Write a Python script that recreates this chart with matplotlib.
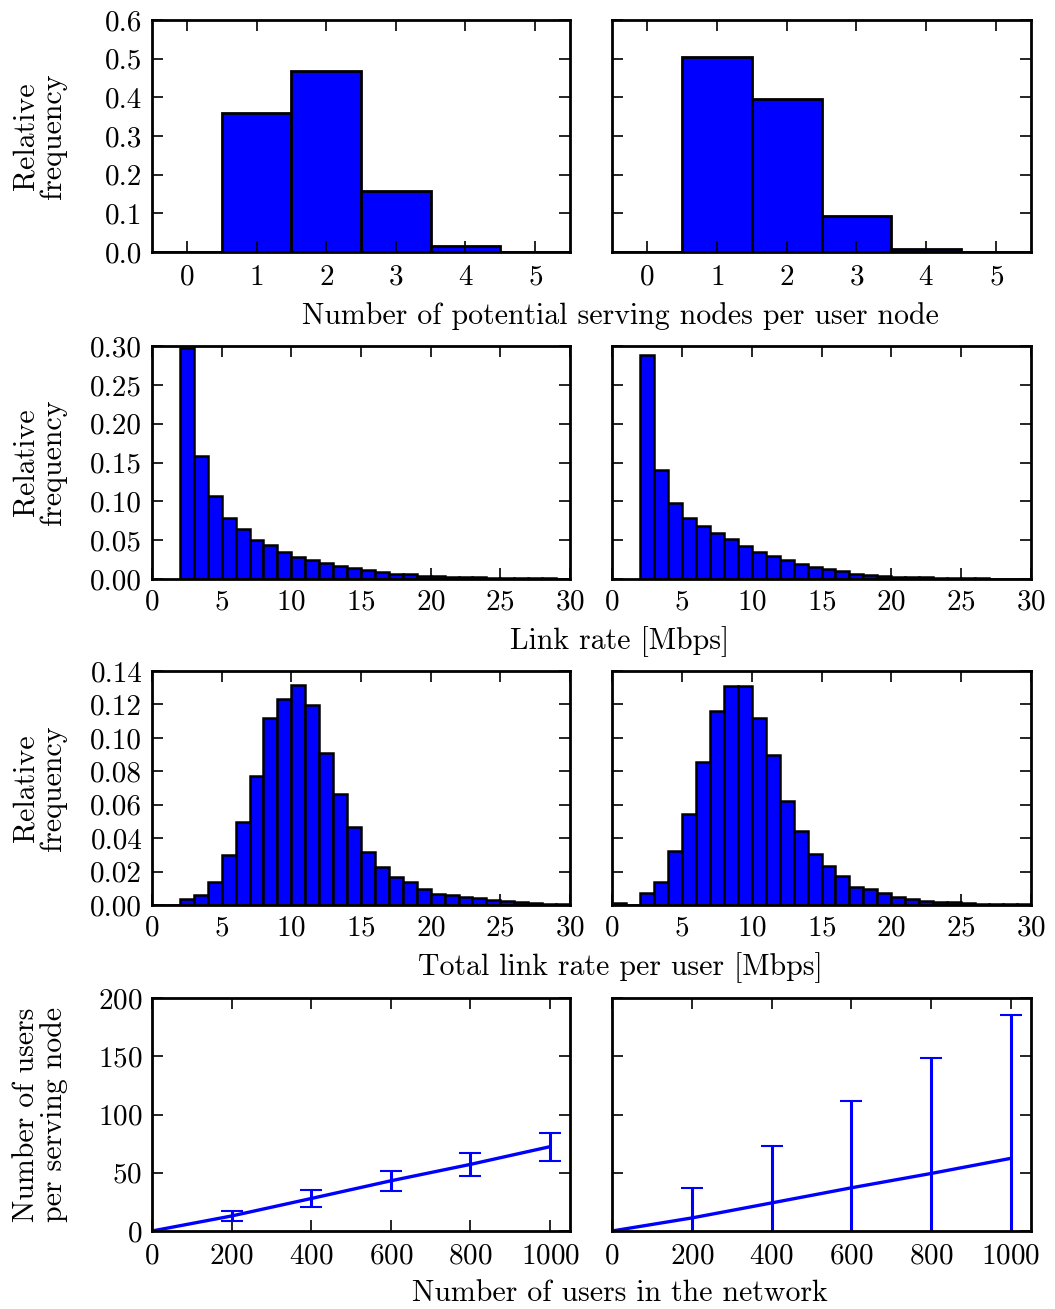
import matplotlib
matplotlib.use("Agg")
import matplotlib.pyplot as plt
import numpy as np

plt.rcParams['font.family'] = 'serif'
plt.rcParams['font.serif'] = ['cmr10', 'DejaVu Serif']
plt.rcParams['mathtext.fontset'] = 'cm'
plt.rcParams['axes.unicode_minus'] = False
plt.rcParams['axes.formatter.use_mathtext'] = True

# ---------------- data ----------------
nodes_bins = [0, 1, 2, 3, 4, 5]
nodes_left = [0.0, 0.359, 0.467, 0.157, 0.0155, 0.0]
nodes_right = [0.0, 0.504, 0.395, 0.092, 0.007, 0.0]

link_bins = list(range(2, 30))
link_left = [0.298, 0.159, 0.107, 0.079, 0.064, 0.050, 0.044, 0.035, 0.028, 0.0246,
             0.021, 0.0168, 0.0138, 0.0116, 0.009, 0.0069, 0.006, 0.0043, 0.0034, 0.003,
             0.0025, 0.002, 0.0018, 0.0015, 0.0012, 0.001, 0.0008, 0.0006]
link_right = [0.288, 0.140, 0.098, 0.078, 0.068, 0.0595, 0.051, 0.043, 0.035, 0.029,
              0.025, 0.0198, 0.0151, 0.0125, 0.0103, 0.0069, 0.0056, 0.0043, 0.003, 0.0025,
              0.002, 0.0016, 0.0013, 0.001, 0.0008, 0.0006, 0.0005, 0.0004]

total_bins = list(range(0, 30))
total_left = [0.0, 0.0, 0.0038, 0.0058, 0.0137, 0.0299, 0.0494, 0.0771, 0.1116, 0.1235,
              0.1315, 0.1197, 0.0912, 0.0665, 0.0468, 0.0315, 0.0227, 0.0167, 0.0137, 0.0098,
              0.0068, 0.0058, 0.0046, 0.0042, 0.0028, 0.0022, 0.0016, 0.0012, 0.0008, 0.0006]
total_right = [0.001, 0.0, 0.0074, 0.0135, 0.0321, 0.0546, 0.0855, 0.1159, 0.1311, 0.1311,
               0.1118, 0.0896, 0.0622, 0.0444, 0.0303, 0.0231, 0.0173, 0.011, 0.0094, 0.007,
               0.0048, 0.0034, 0.0026, 0.002, 0.0016, 0.0012, 0.0008, 0.0006, 0.0004, 0.0004]

users = [0, 200, 400, 600, 800, 1000]
per_node_left = [0, 12.9, 27.9, 43.1, 57.2, 72.4]
err_left = [0, 4.6, 7.2, 8.6, 9.8, 12.1]
per_node_right = [0, 11.2, 24.1, 37.1, 49.4, 62.4]
err_right = [0, 25.9, 49.2, 74.1, 99.2, 122.9]

row_xlabels = ["Number of potential serving nodes per user node",
               "Link rate [Mbps]",
               "Total link rate per user [Mbps]",
               "Number of users in the network"]
row_ylabels = ["Relative\nfrequency", "Relative\nfrequency", "Relative\nfrequency",
               "Number of users\nper serving node"]

# ---------------- layout ----------------
W, H = 1055, 1309
fig = plt.figure(figsize=(W / 100, H / 100), dpi=100)

col_x = [(152, 570), (612, 1031)]
row_y = [(20, 252), (346, 579), (671, 905), (998, 1231)]
label_y = [316, 642, 968, 1293]

FS = 21.5
TFS = 21

def make_ax(r, c):
    x0, x1 = col_x[c]
    y0, y1 = row_y[r]
    ax = fig.add_axes([x0 / W, 1 - y1 / H, (x1 - x0) / W, (y1 - y0) / H])
    for s in ax.spines.values():
        s.set_linewidth(2.0)
    ax.tick_params(direction='in', top=True, right=True, length=8, width=1.2,
                   labelsize=TFS, pad=7)
    return ax

BLUE = '#0000ff'

for r in range(4):
    for c in range(2):
        ax = make_ax(r, c)
        if r == 0:
            vals = nodes_left if c == 0 else nodes_right
            ax.bar(nodes_bins, vals, width=1.0, align='center', color=BLUE,
                   edgecolor='black', linewidth=2)
            ax.set_xlim(-0.5, 5.5)
            ax.set_ylim(0, 0.6)
            ax.set_xticks(nodes_bins)
            ax.set_yticks(np.arange(0, 0.61, 0.1))
            ax.set_yticklabels(["%.1f" % v for v in np.arange(0, 0.61, 0.1)])
            ax.tick_params(axis='x', pad=9)
        elif r == 1:
            vals = link_left if c == 0 else link_right
            ax.bar(link_bins, vals, width=1.0, align='edge', color=BLUE,
                   edgecolor='black', linewidth=1.8)
            ax.set_xlim(0, 30)
            ax.set_ylim(0, 0.30)
            ax.set_xticks(range(0, 31, 5))
            yt = np.arange(0, 0.301, 0.05)
            ax.set_yticks(yt)
            ax.set_yticklabels(["%.2f" % v for v in yt])
        elif r == 2:
            vals = total_left if c == 0 else total_right
            ax.bar(total_bins, vals, width=1.0, align='edge', color=BLUE,
                   edgecolor='black', linewidth=1.8)
            ax.set_xlim(0, 30)
            ax.set_ylim(0, 0.14)
            ax.set_xticks(range(0, 31, 5))
            yt = np.arange(0, 0.141, 0.02)
            ax.set_yticks(yt)
            ax.set_yticklabels(["%.2f" % v for v in yt])
        else:
            yv = per_node_left if c == 0 else per_node_right
            ye = err_left if c == 0 else err_right
            ax.errorbar(users, yv, yerr=ye, color=BLUE, linewidth=2.4,
                        elinewidth=2.2, capsize=8, capthick=1.5)
            ax.set_xlim(0, 1050)
            ax.set_ylim(0, 200)
            ax.set_xticks(range(0, 1001, 200))
            ax.set_yticks(range(0, 201, 50))
            ax.tick_params(axis='x', pad=9)
        if c == 1:
            ax.set_yticklabels([])
        else:
            yc = 1 - (row_y[r][0] + row_y[r][1]) / 2 / H
            fig.text(40 / W, yc, row_ylabels[r], rotation=90, ha='center',
                     va='center', fontsize=FS, multialignment='center',
                     linespacing=1.0)
    fig.text(620 / W, 1 - label_y[r] / H, row_xlabels[r], ha='center',
             va='center', fontsize=FS)

fig.savefig("out.png", dpi=100)
